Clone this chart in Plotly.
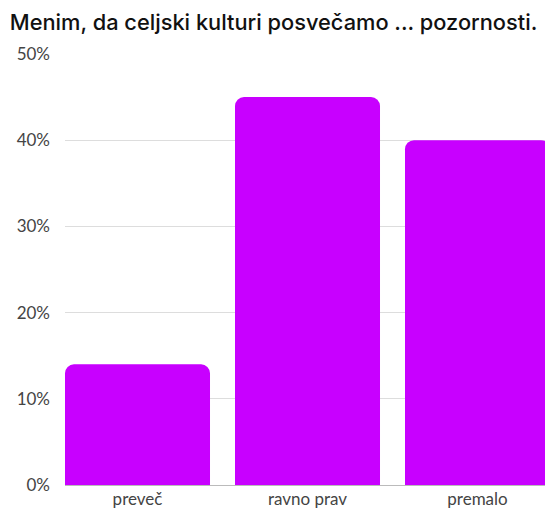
import plotly.graph_objects as go

categories = ["preveč", "ravno prav", "premalo"]
values = [14, 45, 40]
y_ticks = [0, 10, 20, 30, 40, 50]
y_tick_labels = ["0%", "10%", "20%", "30%", "40%", "50%"]
title_text = "Menim, da celjski kulturi posvečamo ... pozornosti."

fig = go.Figure(go.Bar(
    x=categories, y=values,
    marker=dict(color="#c800ff", line=dict(width=0)),
    hoverinfo="x+y",
))

fig.update_layout(
    width=545, height=515,
    margin=dict(l=65, r=0, t=54, b=30),
    paper_bgcolor="white", plot_bgcolor="white",
    bargap=0.147,
    barcornerradius=9,
    showlegend=False,
    title=dict(text=title_text, x=0.018, xanchor="left", y=0.957, yanchor="middle",
               font=dict(family="Inter", size=21.8, weight=500, color="#111111")),
    xaxis=dict(
        type="category",
        range=[-0.4265, 2.397],
        showgrid=False, zeroline=False,
        showline=False,
        tickfont=dict(family="Lato", size=17, color="#444444"),
        ticks="",
        ticklabelstandoff=2,
    ),
    yaxis=dict(
        range=[0, 50],
        tickvals=y_ticks, ticktext=y_tick_labels,
        showgrid=True, gridcolor="#dddddd", gridwidth=1,
        zeroline=True, zerolinecolor="#bbbbbb", zerolinewidth=1,
        tickfont=dict(family="Lato", size=17, color="#444444"),
        ticklabelstandoff=14,
        showline=False,
    ),
)

fig.write_html("out.html", config={"displayModeBar": False},
               post_script="document.body.style.margin='0px';document.body.style.overflow='hidden';")
